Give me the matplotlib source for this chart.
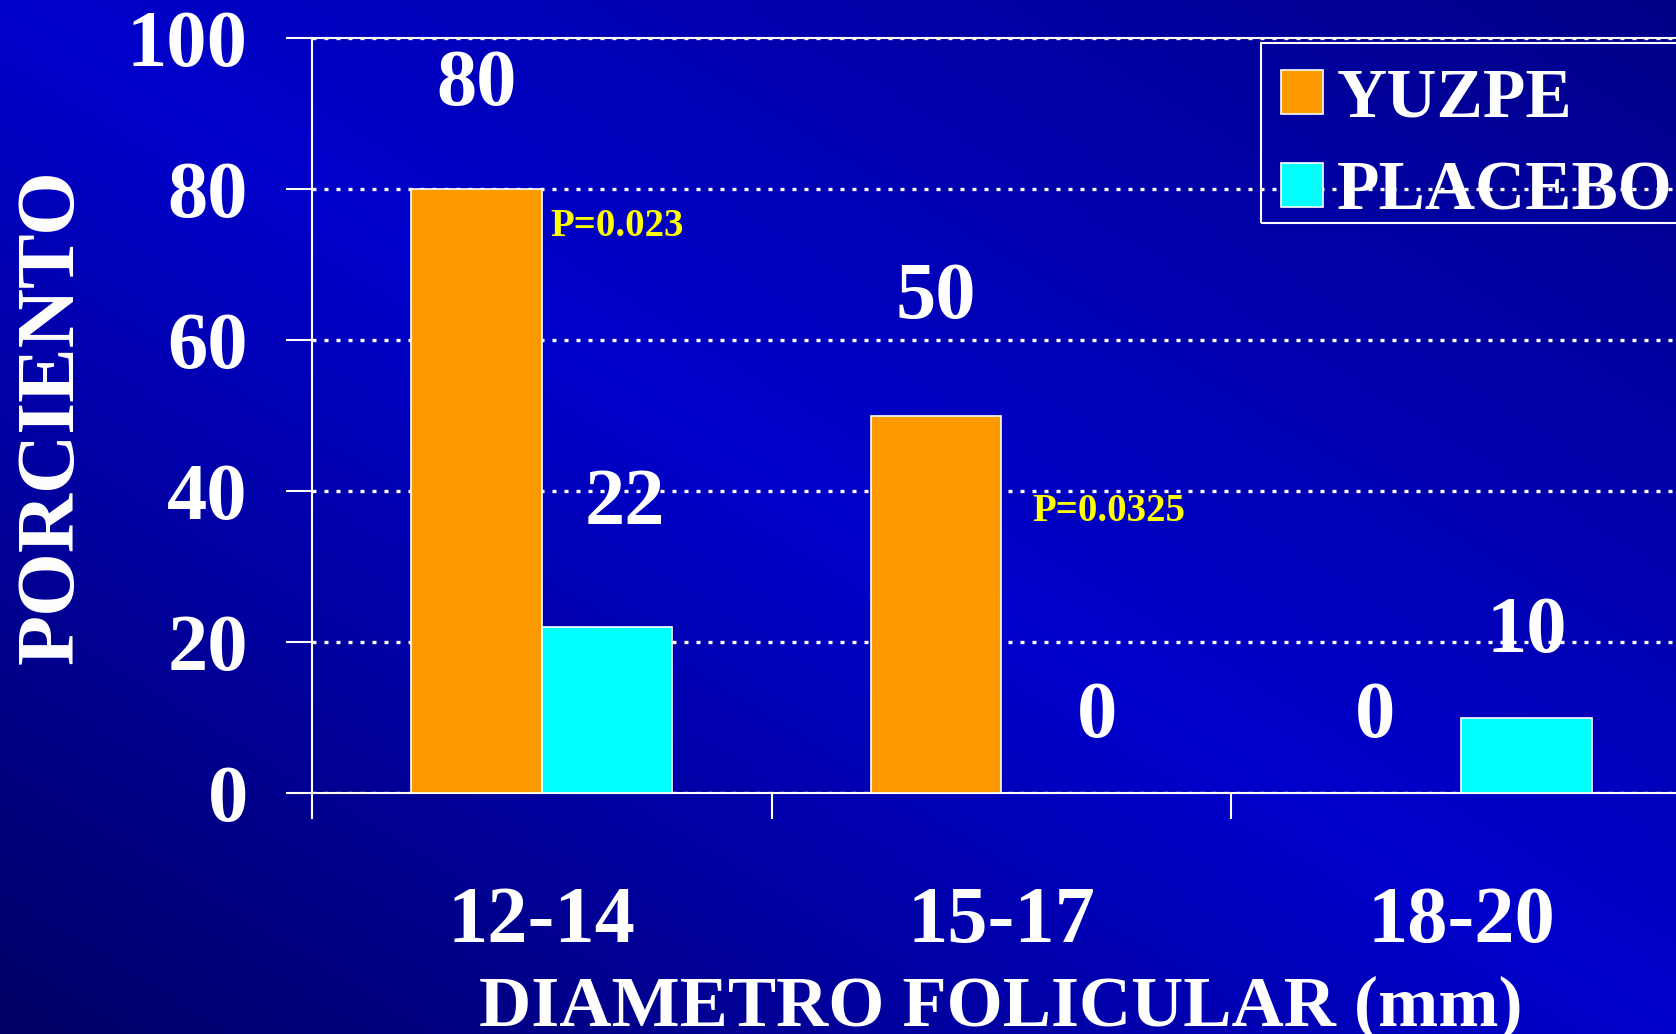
import numpy as np
import matplotlib
matplotlib.use("Agg")
import matplotlib.pyplot as plt
from matplotlib.patches import Rectangle
from matplotlib.ticker import FixedLocator

plt.rcParams['font.family'] = ['Liberation Serif', 'DejaVu Serif']
plt.rcParams['font.weight'] = 'bold'

# data
categories = ["12-14", "15-17", "18-20"]
yuzpe = [80, 50, 0]
placebo = [22, 0, 10]
y_ticks = [0, 20, 40, 60, 80, 100]

# value label nudges (data units) so labels sit where the slide put them
yuzpe_dx = [0.0, 0.0, -0.046]
yuzpe_dy = [11.1, 13.0, 7.4]
placebo_dx = [0.04, 0.067, 0.0]
placebo_dy = [13.7, 7.4, 8.7]

p_labels = ["P=0.023", "P=0.0325"]
p_y = [75.0, 37.3]
p_dx = [0.02, 0.067]

ORANGE = "#FF9900"
CYAN = "#00FFFF"
W = 0.284

fig = plt.figure(figsize=(16.76, 10.34), dpi=100)

# background gradient: bright along the TL-BR diagonal, darker at the other corners
bg = fig.add_axes([0, 0, 1, 1])
bg.axis('off')
xx, yy = np.meshgrid(np.linspace(0, 1, 420), np.linspace(0, 1, 260))
u = xx - yy
blue = np.where(u < 0, 204 + 102 * u, 204 - 68 * u) / 255.0
img = np.dstack([np.zeros_like(blue), np.zeros_like(blue), blue])
bg.imshow(img, aspect='auto', extent=[0, 1, 0, 1], origin='upper')
bg.set_xlim(0, 1)
bg.set_ylim(0, 1)

ax = fig.add_axes([0.186, 0.233, 0.823, 0.730])
ax.set_facecolor('none')
x = np.arange(len(categories))

ax.bar(x - W / 2, yuzpe, W, color=ORANGE, edgecolor='white', linewidth=1.2,
       label="YUZPE", zorder=3)
ax.bar(x + W / 2, placebo, W, color=CYAN, edgecolor='white', linewidth=1.2,
       label="PLACEBO", zorder=3)

for i in range(len(categories)):
    ax.text(x[i] - W / 2 + yuzpe_dx[i], yuzpe[i] + yuzpe_dy[i], str(yuzpe[i]),
            color='white', fontsize=58, ha='center', va='baseline', zorder=4)
    ax.text(x[i] + W / 2 + placebo_dx[i], placebo[i] + placebo_dy[i], str(placebo[i]),
            color='white', fontsize=58, ha='center', va='baseline', zorder=4)

for i, lab in enumerate(p_labels):
    ax.text(x[i] + p_dx[i], p_y[i], lab, color='#FFFF00', fontsize=28,
            ha='left', va='center', zorder=4)

ax.set_xlim(-0.5, 2.5)
ax.set_ylim(0, 100)
ax.set_yticks(y_ticks)
ax.set_xticks(x)
ax.set_xticklabels(categories)
ax.xaxis.set_minor_locator(FixedLocator([-0.5, 0.5, 1.5, 2.5]))

ax.tick_params(axis='y', colors='white', labelsize=58, length=19, width=1.5, pad=27)
ax.tick_params(axis='x', which='major', colors='white', labelsize=58, length=0, pad=67)
ax.tick_params(axis='x', which='minor', colors='white', length=19, width=1.5)

ax.yaxis.grid(True, color='white', linestyle=(0, (1.2, 2.4)), linewidth=2.4)
ax.set_axisbelow(True)

for side in ['left', 'bottom', 'top']:
    ax.spines[side].set_color('white')
    ax.spines[side].set_linewidth(1.5)
ax.spines['right'].set_visible(False)

fig.text(0.597, 0.008, "DIAMETRO FOLICULAR (mm)", color='white', fontsize=52,
         ha='center', va='baseline')
fig.text(0.0315, 0.597, "PORCIENTO", color='white', fontsize=59,
         ha='center', va='center', rotation=90)

# legend without its own frame; the box is drawn separately so it fits like the slide
leg = ax.legend(loc='upper left', bbox_to_anchor=(1266 / 1676, 1 - 52 / 1034),
                bbox_transform=fig.transFigure, fontsize=50, labelcolor='white',
                frameon=False, handlelength=0.6, handleheight=0.6, handletextpad=0.2,
                borderpad=0.22, labelspacing=0.42, borderaxespad=0)
fig.add_artist(Rectangle((1261 / 1676, 1 - 223 / 1034), 0.3, 180 / 1034,
                         transform=fig.transFigure, fill=False,
                         edgecolor='white', linewidth=1.5, zorder=5))

fig.savefig("out.png", dpi=100)
